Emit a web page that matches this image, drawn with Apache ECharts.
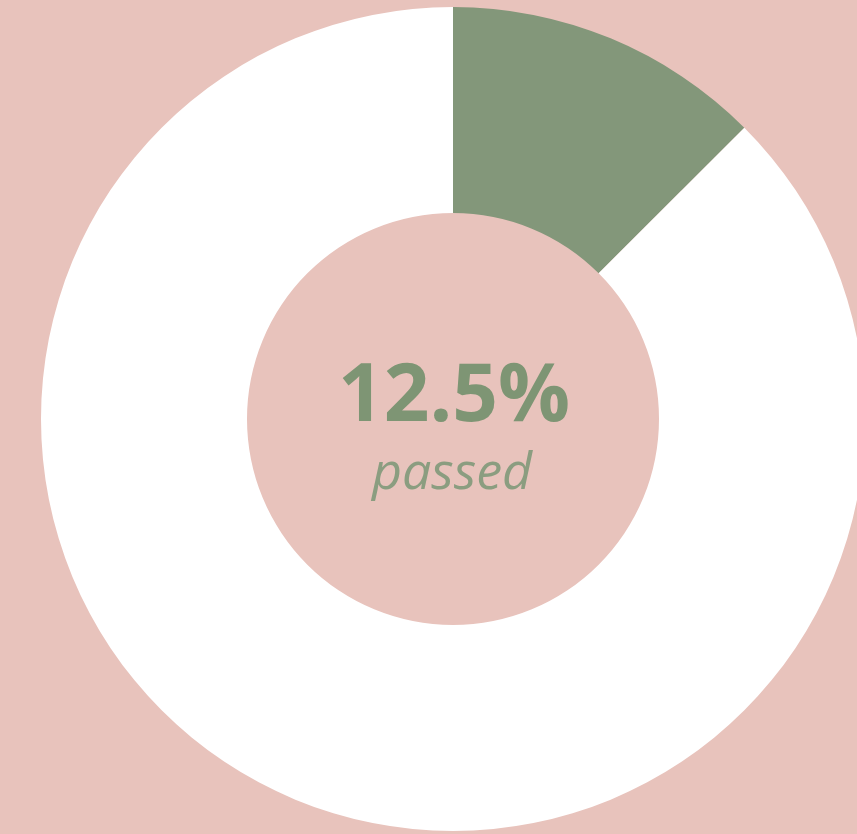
<!DOCTYPE html>
<html>
<head>
<meta charset="utf-8">
<style>
  html, body { margin: 0; padding: 0; background: #e8c3bc; }
  #chart { width: 857px; height: 834px; }
</style>
<script src="https://cdn.jsdelivr.net/npm/echarts@6/dist/echarts.min.js"></script>
</head>
<body>
<div id="chart"></div>
<script>
// share of tests
var categories = ['passed', 'remaining']
var values = [12.5, 87.5]
var colors = ['#83977a', '#ffffff']

var chart = echarts.init(document.getElementById('chart'))
var passedPct = values[0] / (values[0] + values[1]) * 100

var option = {
  backgroundColor: '#e8c3bc',
  animation: false,
  graphic: [
    {
      type: 'text',
      x: 454,
      y: 398,
      style: {
        text: passedPct.toFixed(1) + '%',
        fill: '#7e9574',
        font: 'bold 80px "Open Sans"',
        textAlign: 'center',
        textVerticalAlign: 'middle'
      }
    },
    {
      type: 'text',
      x: 452,
      y: 474,
      style: {
        text: categories[0],
        fill: '#8b9d80',
        font: 'italic 52px "Open Sans"',
        textAlign: 'center',
        textVerticalAlign: 'middle'
      }
    }
  ],
  series: [
    {
      name: 'tests',
      type: 'pie',
      center: [453, 419],
      radius: [206, 412],
      startAngle: 90,
      clockwise: true,
      silent: true,
      label: { show: false },
      labelLine: { show: false },
      itemStyle: { borderWidth: 0 },
      data: categories.map(function (c, i) {
        return { name: c, value: values[i], itemStyle: { color: colors[i] } }
      })
    }
  ]
}
chart.setOption(option)
</script>
</body>
</html>
